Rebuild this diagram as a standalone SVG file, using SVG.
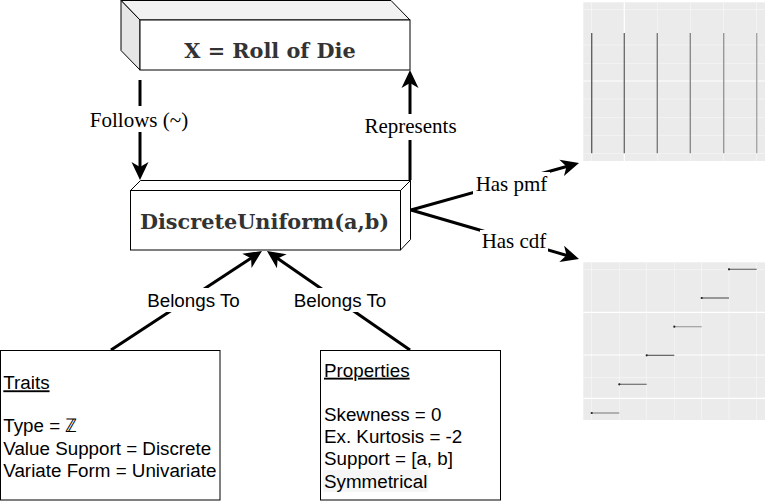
<svg xmlns="http://www.w3.org/2000/svg" width="769" height="501" viewBox="0 0 769 501">
<defs>
<style>
.box{fill:#fff;stroke:#000;stroke-width:1}
.title{font-family:"DejaVu Serif",serif;font-weight:bold;font-size:20.8px;fill:#333;text-anchor:middle}
.lbl{font-family:"Liberation Serif",serif;font-size:21px;fill:#000;text-anchor:middle}
.slbl{font-family:"Liberation Sans",Arial,sans-serif;font-size:18.8px;fill:#000;text-anchor:middle}
.txt{font-family:"Liberation Sans",Arial,sans-serif;font-size:18.8px;fill:#000}
.edge{stroke:#000;stroke-width:3;fill:none}
.lblbg{fill:#fff}
.gmaj{stroke:#fff;stroke-width:1.2}
.gmin{stroke:#fff;stroke-width:0.6;opacity:0.8}
</style>
<marker id="arr" viewBox="-20 -10 22 20" markerWidth="22" markerHeight="20" refX="-10" refY="0" orient="auto" markerUnits="userSpaceOnUse">
<path d="M0,0 L-18,-8.5 L-13,0 L-18,8.5 Z" fill="#000"/>
</marker>
</defs>

<g id="connectors">
<line class="edge" x1="140" y1="80" x2="140" y2="170" marker-end="url(#arr)"/>
<line class="edge" x1="410" y1="180" x2="410" y2="80" marker-end="url(#arr)"/>
<line class="edge" x1="111" y1="350" x2="253.6" y2="256.5" marker-end="url(#arr)"/>
<line class="edge" x1="410" y1="350" x2="275.2" y2="256.7" marker-end="url(#arr)"/>
<line class="edge" x1="411" y1="210" x2="569.4" y2="165.7" marker-end="url(#arr)"/>
<line class="edge" x1="411" y1="210" x2="569.4" y2="256.2" marker-end="url(#arr)"/>
<g id="edge-labels">
<rect class="lblbg" x="88" y="106" width="102" height="26"/>
<text class="lbl" x="139" y="126.5">Follows (~)</text>
<rect class="lblbg" x="360" y="114" width="101" height="26"/>
<text class="lbl" x="410.5" y="133.3">Represents</text>
<rect class="lblbg" x="473" y="172" width="77" height="25"/>
<text class="lbl" x="511.5" y="190.7">Has pmf</text>
<rect class="lblbg" x="480" y="230" width="68" height="25"/>
<text class="lbl" x="514" y="248.3">Has cdf</text>
<rect class="lblbg" x="143" y="288" width="101" height="24"/>
<text class="slbl" x="193.5" y="306.7">Belongs To</text>
<rect class="lblbg" x="290" y="288" width="101" height="24"/>
<text class="slbl" x="340" y="306.7">Belongs To</text>
</g>
</g>

<g id="node-roll">
<polygon points="121,0.5 391,0.5 410,20 140,20" fill="#f2f2f2" stroke="#000" stroke-width="1"/>
<polygon points="121,0.5 140,20 140,70 121,50.5" fill="#e6e6e6" stroke="#000" stroke-width="1"/>
<rect class="box" x="140" y="20" width="270" height="50"/>
<text class="title" x="270" y="58.3">X = Roll of Die</text>
</g>

<g id="node-dist">
<polygon points="130.5,190.5 140.5,180.5 410.5,180.5 400.5,190.5" class="box"/>
<polygon points="400.5,190.5 410.5,180.5 410.5,239.5 400.5,250" class="box"/>
<rect class="box" x="130.5" y="190.5" width="270" height="59.5"/>
<text class="title" x="264.5" y="229.3">DiscreteUniform(a,b)</text>
</g>

<g id="node-traits">
<rect class="box" x="0.5" y="350.5" width="219.5" height="149.5"/>
<text class="txt" x="3.3" y="389.3" text-decoration="underline">Traits</text>
<text class="txt" x="3.3" y="432.3">Type = ℤ</text>
<text class="txt" x="3.3" y="454.5">Value Support = Discrete</text>
<text class="txt" x="3.3" y="476.7">Variate Form = Univariate</text>
</g>

<g id="node-properties">
<rect class="box" x="320.5" y="350.5" width="180" height="149.5"/>
<rect x="323" y="470" width="105" height="22" fill="#f6f6f6"/>
<text class="txt" x="324" y="376.7" text-decoration="underline">Properties</text>
<text class="txt" x="324" y="421">Skewness = 0</text>
<text class="txt" x="324" y="443.2">Ex. Kurtosis = -2</text>
<text class="txt" x="324" y="465.4">Support = [a, b]</text>
<text class="txt" x="324" y="487.6">Symmetrical</text>
</g>

<g id="node-pmf-plot">
<rect x="583.3" y="2.3" width="181.7" height="158.7" fill="#ebebeb"/>
<line class="gmin" x1="583.3" y1="9.3" x2="765" y2="9.3"/>
<line class="gmin" x1="583.3" y1="45" x2="765" y2="45"/>
<line class="gmin" x1="583.3" y1="63.3" x2="765" y2="63.3"/>
<line class="gmaj" x1="583.3" y1="81" x2="765" y2="81"/>
<line class="gmin" x1="583.3" y1="99" x2="765" y2="99"/>
<line class="gmin" x1="583.3" y1="117.3" x2="765" y2="117.3"/>
<line class="gmin" x1="583.3" y1="135.3" x2="765" y2="135.3"/>
<line class="gmin" x1="583.3" y1="153.3" x2="765" y2="153.3"/>
<line class="gmin" x1="591.7" y1="2.3" x2="591.7" y2="161"/>
<line class="gmaj" x1="624.3" y1="2.3" x2="624.3" y2="161"/>
<line class="gmin" x1="657.3" y1="2.3" x2="657.3" y2="161"/>
<line class="gmin" x1="690.3" y1="2.3" x2="690.3" y2="161"/>
<line class="gmin" x1="723.7" y1="2.3" x2="723.7" y2="161"/>
<line class="gmin" x1="756.7" y1="2.3" x2="756.7" y2="161"/>
<g stroke-width="1.4">
<line x1="591.7" y1="33" x2="591.7" y2="153.3" stroke="#626262"/>
<line x1="624.3" y1="33" x2="624.3" y2="153.3" stroke="#6e6e6e"/>
<line x1="657.3" y1="33" x2="657.3" y2="153.3" stroke="#7c7c7c"/>
<line x1="690.3" y1="33" x2="690.3" y2="153.3" stroke="#8a8a8a"/>
<line x1="723.7" y1="33" x2="723.7" y2="153.3" stroke="#989898"/>
<line x1="756.7" y1="33" x2="756.7" y2="153.3" stroke="#a6a6a6"/>
</g>
</g>

<g id="node-cdf-plot">
<rect x="583.3" y="262.3" width="181.7" height="157.7" fill="#ebebeb"/>
<line class="gmin" x1="583.3" y1="269.3" x2="765" y2="269.3"/>
<line class="gmaj" x1="583.3" y1="312.3" x2="765" y2="312.3"/>
<line class="gmaj" x1="583.3" y1="355" x2="765" y2="355"/>
<line class="gmin" x1="583.3" y1="377.7" x2="765" y2="377.7"/>
<line class="gmaj" x1="583.3" y1="398.3" x2="765" y2="398.3"/>
<line class="gmin" x1="591.7" y1="262.3" x2="591.7" y2="420"/>
<line class="gmin" x1="619.3" y1="262.3" x2="619.3" y2="420"/>
<line class="gmin" x1="646.7" y1="262.3" x2="646.7" y2="420"/>
<line class="gmin" x1="674.3" y1="262.3" x2="674.3" y2="420"/>
<line class="gmin" x1="701.7" y1="262.3" x2="701.7" y2="420"/>
<line class="gmin" x1="729" y1="262.3" x2="729" y2="420"/>
<line class="gmin" x1="756.7" y1="262.3" x2="756.7" y2="420"/>
<g stroke-width="1.2">
<line x1="591.7" y1="413" x2="619.3" y2="413" stroke="#8a8a8a"/>
<line x1="619.3" y1="384.3" x2="646.7" y2="384.3" stroke="#707070"/>
<line x1="646.7" y1="355.3" x2="674.3" y2="355.3" stroke="#5a5a5a"/>
<line x1="674.3" y1="326.7" x2="701.7" y2="326.7" stroke="#a0a0a0"/>
<line x1="701.7" y1="298" x2="729" y2="298" stroke="#606060"/>
<line x1="729" y1="269.3" x2="756.7" y2="269.3" stroke="#707070"/>
</g>
<g fill="#222">
<circle cx="591.7" cy="413" r="1.1"/>
<circle cx="619.3" cy="384.3" r="1.1"/>
<circle cx="646.7" cy="355.3" r="1.1"/>
<circle cx="674.3" cy="326.7" r="1.1"/>
<circle cx="701.7" cy="298" r="1.1"/>
<circle cx="729" cy="269.3" r="1.1"/>
</g>
</g>
</svg>
